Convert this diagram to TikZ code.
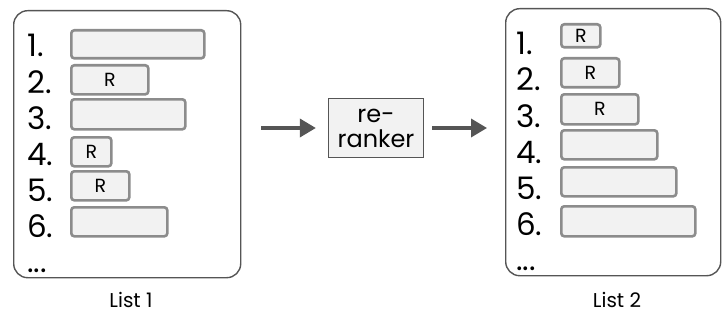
\documentclass[tikz,border=0pt]{standalone}
\usepackage{fontspec}
\setmainfont{Poppins}
\usetikzlibrary{arrows.meta}

\definecolor{framegray}{HTML}{555555}
\definecolor{bargray}{HTML}{8C8C8C}
\definecolor{barfill}{HTML}{F2F2F2}

\tikzset{
    frame/.style={draw=framegray, line width=1.4pt, rounded corners=14pt, anchor=north west, inner sep=0pt},
    bar/.style={draw=bargray, fill=barfill, line width=2.6pt, rounded corners=3pt, anchor=north west, inner sep=0pt, font=\fontsize{19}{19}\selectfont},
    num/.style={anchor=base west, inner sep=0pt, font=\fontsize{31}{31}\selectfont},
    arr/.style={draw=framegray, line width=3.5pt, -{Triangle[length=16pt,width=18pt]}},
}

\begin{document}
\begin{tikzpicture}[x=1pt, y=-1pt]
        \useasboundingbox (0,0) rectangle (723,321);

        % the two lists
        \node[frame, minimum width=227pt, minimum height=267pt] (list1) at (13,10) {};
        \node[frame, minimum width=215pt, minimum height=267pt] (list2) at (505,8) {};

        \foreach \i in {1,...,6} {
            \node[num] (numa\i) at (27,{57+36*(\i-1)}) {\i.};
            \node[num] (numb\i) at (516,{55+36*(\i-1)}) {\i.};
        }
        \node[num] (dotsa) at (27,272) {...};
        \node[num] (dotsb) at (516,270) {...};

        % entries of list 1
        \foreach \t/\w/\h/\lab [count=\k] in {29/133/28/{}, 64/77/29/R, 98/114/30/{}, 136/40/29/R, 170/58/29/R, 206/96/29/{}}
            \node[bar, minimum width=\w pt, minimum height=\h pt] (bara\k) at (70,\t) {\lab};

        % entries of list 2
        \foreach \t/\w/\h/\lab [count=\k] in {23/39/23/R, 57/58/29/R, 93/77/30/R, 129/96/29/{}, 166/115/29/{}, 205/134/30/{}}
            \node[bar, minimum width=\w pt, minimum height=\h pt] (barb\k) at (560,\t) {\lab};

        % re-ranker
        \node[draw=framegray, fill=barfill, line width=1.3pt, minimum width=95pt, minimum height=59pt,
              align=center, inner sep=0pt, font=\fontsize{24}{25}\selectfont] (ranker) at (376,128) {re-\\ranker};

        \draw[arr, shorten <=20pt, shorten >=12pt] (list1.east |- ranker.west) -- (ranker.west);
        \draw[arr, shorten <=8pt, shorten >=18pt] (ranker.east) -- (list2.west |- ranker.east);

        \node[font=\fontsize{20}{20}\selectfont] (cap1) at (131,300) {List 1};
        \node[font=\fontsize{20}{20}\selectfont] (cap2) at (617,300) {List 2};
    \end{tikzpicture}
\end{document}
